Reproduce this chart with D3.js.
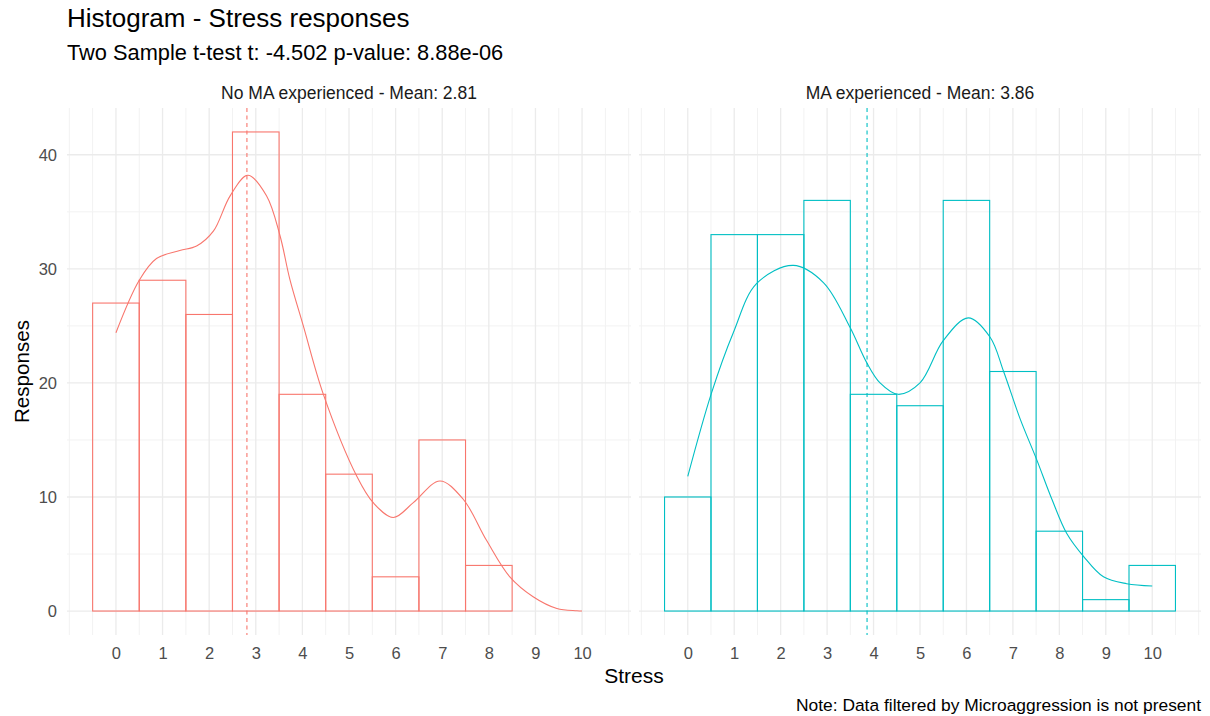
<!DOCTYPE html>
<html>
<head>
<meta charset="utf-8">
<script src="https://cdn.jsdelivr.net/npm/d3@7"></script>
<style>
  body { margin: 0; background: #fff; }
  text { font-family: "Liberation Sans", Arial, sans-serif; }
</style>
</head>
<body>
<div id="viz"></div>
<script>
// stress scores (bins of width 1 centred on each score)
const stressLevels = [0, 1, 2, 3, 4, 5, 6, 7, 8, 9, 10];
const noMACounts = [27, 29, 26, 42, 19, 12, 3, 15, 4, 0, 0];
const maCounts = [10, 33, 33, 36, 19, 18, 36, 21, 7, 1, 4];
const yTicks = [0, 10, 20, 30, 40];

// density curves (scaled to counts) as [stress, responses]
const noMADensity = [
  [0, 24.4], [0.5, 29.0], [0.87, 30.9], [1.37, 31.6], [1.73, 32.0], [2.09, 33.3],
  [2.45, 36.4], [2.83, 38.2], [3.23, 36.4], [3.52, 32.9], [3.73, 29.1], [4.02, 25.0],
  [4.45, 19.0], [5.17, 11.8], [5.52, 9.5], [5.95, 8.2], [6.38, 9.5], [6.95, 11.4],
  [7.45, 9.8], [7.95, 6.2], [8.45, 3.0], [8.95, 1.26], [9.46, 0.23], [9.89, 0.03], [10, 0]
];
const maDensity = [
  [0, 11.8], [0.51, 19.1], [0.98, 24.4], [1.48, 28.7], [2.27, 30.3], [2.92, 28.8],
  [3.49, 24.9], [3.85, 21.8], [4.14, 20.0], [4.53, 19.0], [5.0, 20.0], [5.5, 23.7],
  [6.04, 25.7], [6.51, 24.0], [6.8, 21.0], [7.16, 16.8], [7.51, 13.3], [7.84, 9.8],
  [8.16, 6.8], [8.52, 4.8], [8.95, 3.0], [9.45, 2.4], [10, 2.2]
];

const panelLabels = ['No MA experienced - Mean: 2.81', 'MA experienced - Mean: 3.86'];
const panelMeans = [2.81, 3.86];
const panelColors = ['#F8766D', '#00BFC4'];

const width = 1210, height = 716;
const panelTop = 108, panelBottom = 635;
const panelRanges = [[67, 631], [639, 1201]];

const svg = d3.select('#viz')
  .append('svg')
  .attr('width', width)
  .attr('height', height);

const y = d3.scaleLinear()
  .domain([-2.1, 44.1])
  .range([panelBottom, panelTop]);

const panels = [
  { label: panelLabels[0], counts: noMACounts, density: noMADensity, mean: panelMeans[0], color: panelColors[0], range: panelRanges[0] },
  { label: panelLabels[1], counts: maCounts, density: maDensity, mean: panelMeans[1], color: panelColors[1], range: panelRanges[1] }
];

// x minor breaks, one step outside the majors like ggplot does
const xMinor = d3.range(-1, 11.01, 0.5).filter(v => !stressLevels.includes(v));
const yMinor = [5, 15, 25, 35];

panels.forEach((p, idx) => {
  const x = d3.scaleLinear()
    .domain([-1.05, 11.05])
    .range(p.range);

  const g = svg.append('g');

  // grid lines
  g.selectAll('.xminor').data(xMinor).enter().append('line')
    .attr('x1', d => x(d)).attr('x2', d => x(d))
    .attr('y1', panelTop).attr('y2', panelBottom)
    .attr('stroke', '#F2F2F2').attr('stroke-width', 1);
  g.selectAll('.yminor').data(yMinor).enter().append('line')
    .attr('x1', p.range[0]).attr('x2', p.range[1])
    .attr('y1', d => y(d)).attr('y2', d => y(d))
    .attr('stroke', '#F2F2F2').attr('stroke-width', 1);
  g.selectAll('.xmajor').data(stressLevels).enter().append('line')
    .attr('x1', d => x(d)).attr('x2', d => x(d))
    .attr('y1', panelTop).attr('y2', panelBottom)
    .attr('stroke', '#EBEBEB').attr('stroke-width', 1.3);
  g.selectAll('.ymajor').data(yTicks).enter().append('line')
    .attr('x1', p.range[0]).attr('x2', p.range[1])
    .attr('y1', d => y(d)).attr('y2', d => y(d))
    .attr('stroke', '#EBEBEB').attr('stroke-width', 1.3);

  // histogram bars (outline only)
  g.selectAll('.bar').data(p.counts).enter().append('rect')
    .attr('x', (d, i) => x(stressLevels[i] - 0.5))
    .attr('width', (d, i) => x(stressLevels[i] + 0.5) - x(stressLevels[i] - 0.5))
    .attr('y', d => y(d))
    .attr('height', d => y(0) - y(d))
    .attr('fill', 'none')
    .attr('stroke', p.color)
    .attr('stroke-width', 1.1);

  // density curve
  const line = d3.line()
    .x(d => x(d[0]))
    .y(d => y(d[1]))
    .curve(d3.curveCatmullRom.alpha(0.5));

  g.append('path')
    .datum(p.density)
    .attr('d', line)
    .attr('fill', 'none')
    .attr('stroke', p.color)
    .attr('stroke-width', 1.1);

  // mean line
  g.append('line')
    .attr('x1', x(p.mean)).attr('x2', x(p.mean))
    .attr('y1', panelTop).attr('y2', panelBottom)
    .attr('stroke', p.color)
    .attr('stroke-width', 1.1)
    .attr('stroke-dasharray', '4,3.5');

  // strip label
  svg.append('text')
    .attr('x', (p.range[0] + p.range[1]) / 2)
    .attr('y', 99)
    .attr('text-anchor', 'middle')
    .attr('font-size', 17.5)
    .attr('fill', '#1A1A1A')
    .text(p.label);

  // x axis
  const xAxis = d3.axisBottom(x)
    .tickValues(stressLevels)
    .tickSize(0)
    .tickPadding(12);
  const xg = svg.append('g')
    .attr('transform', `translate(0,${panelBottom})`)
    .call(xAxis);
  xg.select('.domain').remove();
  xg.selectAll('text')
    .attr('font-size', 16.5)
    .attr('fill', '#4D4D4D')
    .attr('font-family', '"Liberation Sans", Arial, sans-serif');

  // y axis only on the left panel
  if (idx === 0) {
    const yAxis = d3.axisLeft(y)
      .tickValues(yTicks)
      .tickSize(0)
      .tickPadding(10);
    const yg = svg.append('g')
      .attr('transform', `translate(${p.range[0]},0)`)
      .call(yAxis);
    yg.select('.domain').remove();
    yg.selectAll('text')
      .attr('font-size', 16.5)
      .attr('fill', '#4D4D4D')
      .attr('font-family', '"Liberation Sans", Arial, sans-serif');
  }
});

// titles
svg.append('text')
  .attr('x', 67).attr('y', 27)
  .attr('font-size', 26)
  .attr('fill', '#000')
  .text('Histogram - Stress responses');

svg.append('text')
  .attr('x', 67).attr('y', 60)
  .attr('font-size', 21.8)
  .attr('fill', '#000')
  .text('Two Sample t-test t: -4.502 p-value: 8.88e-06');

svg.append('text')
  .attr('x', (panelRanges[0][0] + panelRanges[1][1]) / 2)
  .attr('y', 683)
  .attr('text-anchor', 'middle')
  .attr('font-size', 21)
  .attr('fill', '#000')
  .text('Stress');

svg.append('text')
  .attr('transform', `translate(29,${(panelTop + panelBottom) / 2}) rotate(-90)`)
  .attr('text-anchor', 'middle')
  .attr('font-size', 20.6)
  .attr('fill', '#000')
  .text('Responses');

svg.append('text')
  .attr('x', panelRanges[1][1])
  .attr('y', 711)
  .attr('text-anchor', 'end')
  .attr('font-size', 17.4)
  .attr('fill', '#000')
  .text('Note: Data filtered by Microaggression is not present');
</script>
</body>
</html>
